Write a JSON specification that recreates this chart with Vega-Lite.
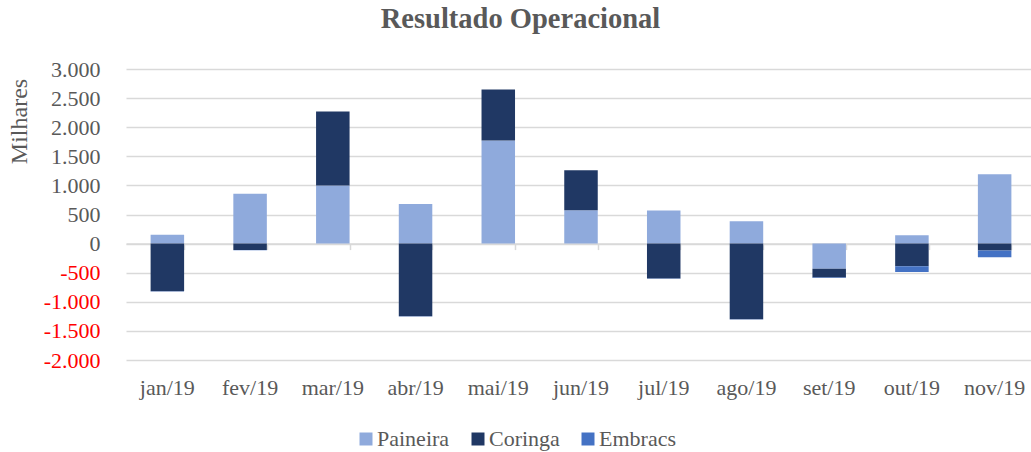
{
  "$schema": "https://vega.github.io/schema/vega-lite/v6.json",
  "width": 905,
  "height": 291,
  "autosize": "none",
  "padding": {"left": 126, "top": 69, "right": 0, "bottom": 92},
  "config": {
    "locale": {"number": {"decimal": ",", "thousands": ".", "grouping": [3], "currency": ["R$", ""], "minus": "-"}},
    "font": "Liberation Serif",
    "view": {"stroke": null},
    "legend": {"labelFont": "Liberation Serif", "labelFontSize": 22, "labelColor": "#595959"}
  },
  "title": {
    "text": "Resultado Operacional",
    "font": "Liberation Serif",
    "fontSize": 28.5,
    "fontWeight": "bold",
    "color": "#595959",
    "anchor": "middle",
    "dx": -58,
    "baseline": "alphabetic",
    "offset": 2
  },
  "data": {
    "values": [
      {"mes": "jan/19", "serie": "Paineira", "ordem": 1, "valor": 150},
      {"mes": "jan/19", "serie": "Coringa", "ordem": 2, "valor": -820},
      {"mes": "jan/19", "serie": "Embracs", "ordem": 3, "valor": -3},
      {"mes": "fev/19", "serie": "Paineira", "ordem": 1, "valor": 855},
      {"mes": "fev/19", "serie": "Coringa", "ordem": 2, "valor": -110},
      {"mes": "fev/19", "serie": "Embracs", "ordem": 3, "valor": -5},
      {"mes": "mar/19", "serie": "Paineira", "ordem": 1, "valor": 1000},
      {"mes": "mar/19", "serie": "Coringa", "ordem": 2, "valor": 1268},
      {"mes": "mar/19", "serie": "Embracs", "ordem": 3, "valor": 0},
      {"mes": "abr/19", "serie": "Paineira", "ordem": 1, "valor": 682},
      {"mes": "abr/19", "serie": "Coringa", "ordem": 2, "valor": -1250},
      {"mes": "abr/19", "serie": "Embracs", "ordem": 3, "valor": -3},
      {"mes": "mai/19", "serie": "Paineira", "ordem": 1, "valor": 1770},
      {"mes": "mai/19", "serie": "Coringa", "ordem": 2, "valor": 876},
      {"mes": "mai/19", "serie": "Embracs", "ordem": 3, "valor": 0},
      {"mes": "jun/19", "serie": "Paineira", "ordem": 1, "valor": 573},
      {"mes": "jun/19", "serie": "Coringa", "ordem": 2, "valor": 687},
      {"mes": "jun/19", "serie": "Embracs", "ordem": 3, "valor": 0},
      {"mes": "jul/19", "serie": "Paineira", "ordem": 1, "valor": 567},
      {"mes": "jul/19", "serie": "Coringa", "ordem": 2, "valor": -598},
      {"mes": "jul/19", "serie": "Embracs", "ordem": 3, "valor": -4},
      {"mes": "ago/19", "serie": "Paineira", "ordem": 1, "valor": 384},
      {"mes": "ago/19", "serie": "Coringa", "ordem": 2, "valor": -1300},
      {"mes": "ago/19", "serie": "Embracs", "ordem": 3, "valor": -6},
      {"mes": "set/19", "serie": "Paineira", "ordem": 1, "valor": -430},
      {"mes": "set/19", "serie": "Coringa", "ordem": 2, "valor": -152},
      {"mes": "set/19", "serie": "Embracs", "ordem": 3, "valor": -8},
      {"mes": "out/19", "serie": "Paineira", "ordem": 1, "valor": 143},
      {"mes": "out/19", "serie": "Coringa", "ordem": 2, "valor": -390},
      {"mes": "out/19", "serie": "Embracs", "ordem": 3, "valor": -98},
      {"mes": "nov/19", "serie": "Paineira", "ordem": 1, "valor": 1191},
      {"mes": "nov/19", "serie": "Coringa", "ordem": 2, "valor": -120},
      {"mes": "nov/19", "serie": "Embracs", "ordem": 3, "valor": -115}
    ]
  },
  "resolve": {"axis": {"x": "independent"}},
  "layer": [
    {
      "mark": {"type": "bar"},
      "encoding": {
        "x": {
          "field": "mes",
          "type": "nominal",
          "sort": null,
          "scale": {"range": [0, 910], "paddingInner": 0.595, "paddingOuter": 0.2975},
          "axis": {
            "title": null,
            "orient": "bottom",
            "domain": false,
            "ticks": false,
            "grid": false,
            "labelAngle": 0,
            "labelFont": "Liberation Serif",
            "labelFontSize": 22,
            "labelColor": "#595959",
            "labelPadding": 17
          }
        },
        "y": {
          "field": "valor",
          "type": "quantitative",
          "stack": "zero",
          "scale": {"domain": [-2000, 3000], "nice": false},
          "axis": {
            "title": "Milhares",
            "titleFont": "Liberation Serif",
            "titleFontSize": 24,
            "titleFontWeight": "normal",
            "titleColor": "#595959",
            "titleAngle": 270,
            "titleAlign": "center",
            "titleBaseline": "middle",
            "titleX": -107,
            "titleY": 52,
            "values": [-2000, -1500, -1000, -500, 0, 500, 1000, 1500, 2000, 2500, 3000],
            "format": ",d",
            "domain": false,
            "ticks": false,
            "labelPadding": 26,
            "labelFont": "Liberation Serif",
            "labelFontSize": 22,
            "labelColor": {"condition": {"test": "datum.value < 0", "value": "#FF0000"}, "value": "#595959"},
            "gridColor": "#d9d9d9",
            "gridWidth": 1.5
          }
        },
        "color": {
          "field": "serie",
          "type": "nominal",
          "scale": {"domain": ["Paineira", "Coringa", "Embracs"], "range": ["#8FAADC", "#203864", "#4472C4"]},
          "legend": {
            "title": null,
            "orient": "none",
            "direction": "horizontal",
            "legendX": 229,
            "legendY": 359,
            "symbolType": "square",
            "symbolSize": 169,
            "symbolStrokeWidth": 0,
            "labelFont": "Liberation Serif",
            "labelFontSize": 22,
            "labelColor": "#595959",
            "labelOffset": 0,
            "columnPadding": 17
          }
        },
        "order": {"field": "ordem", "type": "quantitative"}
      }
    },
    {
      "mark": {"type": "rule", "opacity": 0},
      "encoding": {
        "x": {
          "field": "mes",
          "type": "nominal",
          "sort": null,
          "axis": {
            "title": null,
            "orient": "bottom",
            "offset": -116.4,
            "labels": false,
            "grid": false,
            "domain": true,
            "domainColor": "#d9d9d9",
            "domainWidth": 1.5,
            "ticks": true,
            "tickBand": "extent",
            "tickColor": "#d9d9d9",
            "tickWidth": 1.5,
            "tickSize": 6
          }
        }
      }
    }
  ]
}
